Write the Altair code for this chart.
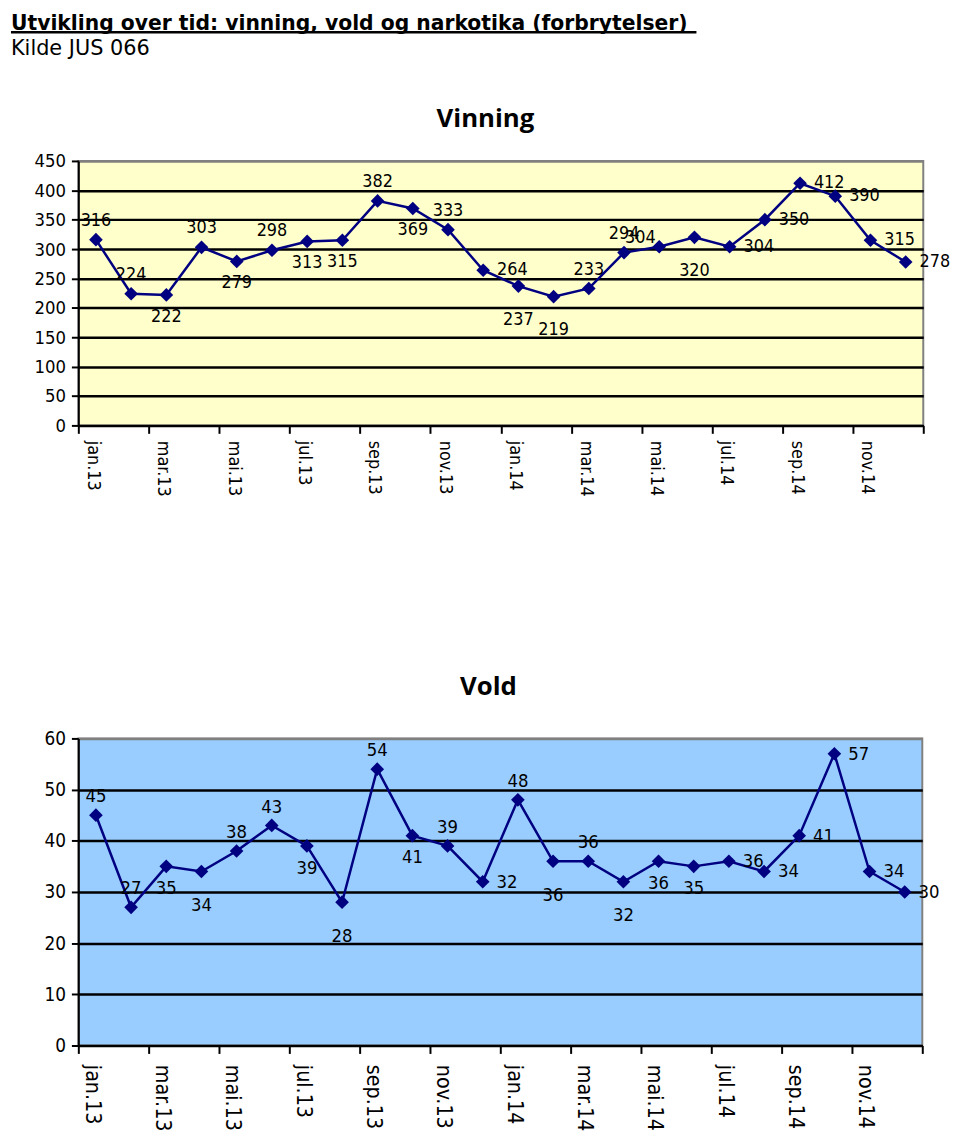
import json
import altair as alt
import pandas as pd

TITLE = "Utvikling over tid: vinning, vold og narkotika (forbrytelser)"
SOURCE = "Kilde JUS 066"
PANEL_TITLES = ["Vinning", "Vold"]

MONTHS = ["jan.13", "feb.13", "mar.13", "apr.13", "mai.13", "jun.13",
          "jul.13", "aug.13", "sep.13", "okt.13", "nov.13", "des.13",
          "jan.14", "feb.14", "mar.14", "apr.14", "mai.14", "jun.14",
          "jul.14", "aug.14", "sep.14", "okt.14", "nov.14", "des.14"]

VINNING = [316, 224, 222, 303, 279, 298, 313, 315, 382, 369, 333, 264,
           237, 219, 233, 294, 304, 320, 304, 350, 412, 390, 315, 278]
VOLD = [45, 27, 35, 34, 38, 43, 39, 28, 54, 41, 39, 32,
        48, 36, 36, 32, 36, 35, 36, 34, 41, 57, 34, 30]

# where each data label sits relative to its point:
# a=above, L=above-left, b=below, B=further below, r=right
VINNING_LABEL_SIDE = ["a", "a", "b", "a", "b", "a", "b", "b", "a", "b", "a", "r",
                      "B", "B", "a", "a", "L", "B", "r", "r", "r", "r", "r", "r"]
VOLD_LABEL_SIDE = ["a", "a", "b", "B", "a", "a", "b", "B", "a", "b", "a", "r",
                   "a", "B", "a", "B", "b", "b", "r", "r", "r", "r", "r", "r"]

NAVY = "#000080"
FONT = "DejaVu Sans Condensed, Liberation Sans"
HEAD_FONT = "DejaVu Sans"
TITLE_FONT = "Open Sans"

TICKS = list(range(0, 25, 2))
LABEL_EXPR = "datum.value < 24 ? " + json.dumps(MONTHS) + "[datum.value] : ''"


def frame(values, sides):
    return pd.DataFrame({"idx": list(range(len(values))), "month": MONTHS,
                         "value": values, "side": sides})


def panel_layers(df, ymax, ystep, yfs, xfs, lfs, xpad, xoff):
    x = alt.X("pos:Q",
              scale=alt.Scale(domain=[0, 24], nice=False, zero=False),
              axis=alt.Axis(values=TICKS, labelExpr=LABEL_EXPR, labelAngle=90,
                            labelAlign="left", labelBaseline="middle",
                            labelOffset=xoff, labelPadding=xpad, labelFont=FONT,
                            labelFontSize=xfs, labelColor="black",
                            labelFlush=False, labelOverlap=False,
                            tickSize=8, tickWidth=2, tickColor="black",
                            domainColor="black", domainWidth=2,
                            grid=False, title=None))
    y = alt.Y("value:Q",
              scale=alt.Scale(domain=[0, ymax], nice=False, zero=True),
              axis=alt.Axis(values=list(range(0, ymax + 1, ystep)),
                            labelFont=FONT, labelFontSize=yfs, labelColor="black",
                            labelPadding=6, labelFlush=False,
                            tickSize=7, tickWidth=2, tickColor="black",
                            domainColor="black", domainWidth=2,
                            grid=True, gridWidth=2.5,
                            gridColor=alt.condition(f"datum.value == {ymax}",
                                                    alt.value("#808080"),
                                                    alt.value("black")),
                            title=None))
    base = alt.Chart(df).transform_calculate(pos="datum.idx + 0.5")
    line = base.mark_line(color=NAVY, strokeWidth=2.5).encode(x=x, y=y)
    pts = base.mark_point(shape="diamond", filled=True, size=190,
                          color=NAVY, opacity=1).encode(x=x, y=y)
    offs = {"a": {"dy": -19, "align": "center"},
            "L": {"dx": -19, "dy": -9, "align": "center"},
            "b": {"dy": 22, "align": "center"},
            "B": {"dy": 34, "align": "center"},
            "r": {"dx": 14, "align": "left"}}
    labs = []
    for k, v in offs.items():
        labs.append(
            base.transform_filter(f"datum.side == '{k}'")
            .mark_text(font=FONT, fontSize=lfs, color="black", baseline="middle", **v)
            .encode(x=x, y=y, text="value:Q")
        )
    return [line, pts] + labs


vin_layers = panel_layers(frame(VINNING, VINNING_LABEL_SIDE), 450, 50,
                          18.5, 18, 18, 7, 14)
vold_layers = panel_layers(frame(VOLD, VOLD_LABEL_SIDE), 60, 10,
                           19, 21.5, 18.5, 11, 13)

header = alt.Chart(pd.DataFrame({"t": [TITLE]})).mark_text(
    font=HEAD_FONT, fontSize=20.5, fontWeight="bold", align="left",
    baseline="alphabetic", color="black"
).encode(text="t:N", x=alt.value(-68), y=alt.value(-132))

underline = alt.Chart(pd.DataFrame({"t": [TITLE]})).mark_rule(
    color="black", strokeWidth=2.5
).encode(x=alt.value(-68), x2=alt.value(624), y=alt.value(-130))

source = alt.Chart(pd.DataFrame({"t": [SOURCE]})).mark_text(
    font=HEAD_FONT, fontSize=21, align="left", baseline="alphabetic", color="black"
).encode(text="t:N", x=alt.value(-68), y=alt.value(-107))

vin_title = alt.Chart(pd.DataFrame({"t": [PANEL_TITLES[0]]})).mark_text(
    font=TITLE_FONT, fontSize=26, fontWeight="bold", align="center",
    baseline="alphabetic", color="black"
).encode(text="t:N", x=alt.value(411), y=alt.value(-34))

vinning = alt.layer(*vin_layers, header, underline, source, vin_title).properties(
    width=853, height=267,
    view=alt.ViewBackground(fill="#FFFFCC", stroke="#808080", strokeWidth=2),
)

vold = alt.layer(*vold_layers).properties(
    width=852, height=310,
    view=alt.ViewBackground(fill="#99CCFF", stroke="#808080", strokeWidth=2),
    title=alt.TitleParams(PANEL_TITLES[1], font=TITLE_FONT, fontSize=26,
                          fontWeight="bold", color="black", offset=9,
                          baseline="alphabetic", anchor="middle", frame="group",
                          dx=-12),
)

chart = alt.vconcat(vinning, vold, spacing=177).properties(
    padding=0, background="white"
)

chart.save("out.html", embed_options={"renderer": "svg", "actions": False})
